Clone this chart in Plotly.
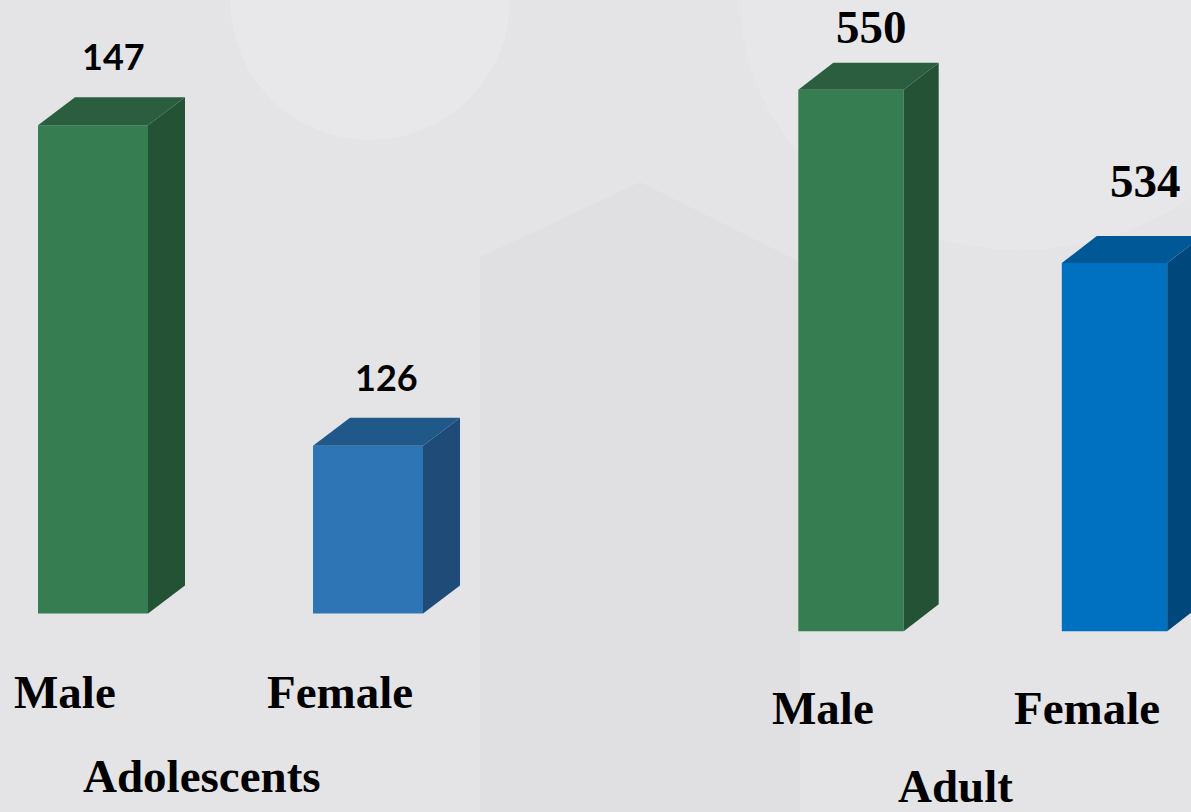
import plotly.graph_objects as go

# ---- data -------------------------------------------------------------
groups = ["Adolescents", "Adult"]
categories = ["Male", "Female"]
adolescent_counts = [147, 126]
adult_counts = [550, 534]

# ---- figure geometry --------------------------------------------------
W, H = 1191, 812
positions = [0, 1]

# per panel: x-domain, x-range, y-range, baseline of the bars, bar width
panels = [
    dict(values=adolescent_counts, xdom=[0.0, 0.5], xr=[-93 / 275, (595.5 - 93) / 275],
         yr=[102.0, 155.2], base=115, width=0.40, depth=(37, 28),
         front=["#377D52", "#2E75B6"], top=["#2A5E3E", "#21588A"], side=["#245235", "#1F4B78"],
         label_font="Lato", label_size=36, label_shift=[(2, 41), (0, 41)]),
    dict(values=adult_counts, xdom=[0.5, 1.0], xr=[(595.5 - 851) / 263.5, (1191 - 851) / 263.5],
         yr=[483.3, 558.3], base=500, width=0.40, depth=(35, 27),
         front=["#377D52", "#0070C0"], top=["#2A5E3E", "#005896"], side=["#245235", "#00487C"],
         label_font="Liberation Serif", label_size=47, label_shift=[(3, 36), (13, 55)]),
]

fig = go.Figure()

# subtle background shapes
fig.add_shape(type="circle", xref="paper", yref="paper",
              x0=230 / W, x1=510 / W, y0=1 - 140 / H, y1=1 + 140 / H,
              fillcolor="rgba(240,240,242,0.35)", line_width=0, layer="below")
fig.add_shape(type="path", xref="paper", yref="paper",
              path=f"M {480/W} 0 L {480/W} {1-257/H} L {640/W} {1-182/H} L {800/W} {1-262/H} L {800/W} 0 Z",
              fillcolor="rgba(0,0,0,0.015)", line_width=0, layer="below")
fig.add_shape(type="circle", xref="paper", yref="paper",
              x0=740 / W, x1=1300 / W, y0=1 - 250 / H, y1=1 + 250 / H,
              fillcolor="rgba(240,240,242,0.25)", line_width=0, layer="below")

annotations = []
for k, p in enumerate(panels):
    xa = "x" if k == 0 else f"x{k+1}"
    ya = "y" if k == 0 else f"y{k+1}"
    # pixel -> data conversions for the depth of the 3-D faces
    x_px = (p["xdom"][1] - p["xdom"][0]) * W / (p["xr"][1] - p["xr"][0])
    y_px = H / (p["yr"][1] - p["yr"][0])
    dx = p["depth"][0] / x_px
    dy = p["depth"][1] / y_px
    hw = p["width"] / 2
    b = p["base"]

    # front faces
    fig.add_trace(go.Bar(x=positions, y=[v - b for v in p["values"]], base=b,
                         width=p["width"], marker=dict(color=p["front"], line_width=0),
                         xaxis=xa, yaxis=ya, showlegend=False, hoverinfo="skip"))

    for i, v in enumerate(p["values"]):
        x0, x1 = positions[i] - hw, positions[i] + hw
        # side face
        fig.add_trace(go.Scatter(x=[x1, x1 + dx, x1 + dx, x1, x1], y=[b, b + dy, v + dy, v, b],
                                 fill="toself", fillcolor=p["side"][i], mode="lines",
                                 line=dict(width=0, color=p["side"][i]),
                                 xaxis=xa, yaxis=ya, showlegend=False, hoverinfo="skip"))
        # top face
        fig.add_trace(go.Scatter(x=[x0, x0 + dx, x1 + dx, x1, x0], y=[v, v + dy, v + dy, v, v],
                                 fill="toself", fillcolor=p["top"][i], mode="lines",
                                 line=dict(width=0, color=p["top"][i]),
                                 xaxis=xa, yaxis=ya, showlegend=False, hoverinfo="skip"))
        # value label
        sx, sy = p["label_shift"][i]
        annotations.append(dict(x=positions[i] + dx / 2, y=v + dy, xref=xa, yref=ya,
                                text=f"<b>{v}</b>", showarrow=False, xshift=sx, yshift=sy,
                                xanchor="center", yanchor="middle",
                                font=dict(family=p["label_font"], size=p["label_size"], color="#000000")))

    fig.update_layout(**{
        ("xaxis" if k == 0 else f"xaxis{k+1}"): dict(domain=p["xdom"], range=p["xr"], visible=False,
                                                      fixedrange=True),
        ("yaxis" if k == 0 else f"yaxis{k+1}"): dict(domain=[0, 1], range=p["yr"], visible=False,
                                                      fixedrange=True, anchor=xa),
    })

# category labels under the bars
cat_y = [692, 708]
for k, p in enumerate(panels):
    xa = "x" if k == 0 else f"x{k+1}"
    for i, c in enumerate(categories):
        annotations.append(dict(x=positions[i], y=1 - cat_y[k] / H, xref=xa, yref="paper",
                                text=f"<b>{c}</b>", showarrow=False, xshift=-28,
                                xanchor="center", yanchor="middle",
                                font=dict(family="Liberation Serif", size=47, color="#000000")))

# group titles
group_xy = [(202, 776), (955, 786)]
for g, (gx, gy) in zip(groups, group_xy):
    annotations.append(dict(x=gx / W, y=1 - gy / H, xref="paper", yref="paper",
                            text=f"<b>{g}</b>", showarrow=False,
                            xanchor="center", yanchor="middle",
                            font=dict(family="Liberation Serif", size=47, color="#000000")))

fig.update_layout(
    width=W, height=H,
    margin=dict(l=0, r=0, t=0, b=0),
    paper_bgcolor="#E4E4E6",
    plot_bgcolor="rgba(0,0,0,0)",
    barmode="overlay",
    showlegend=False,
    annotations=annotations,
)

fig.write_html("out.html", config={"displayModeBar": False})
